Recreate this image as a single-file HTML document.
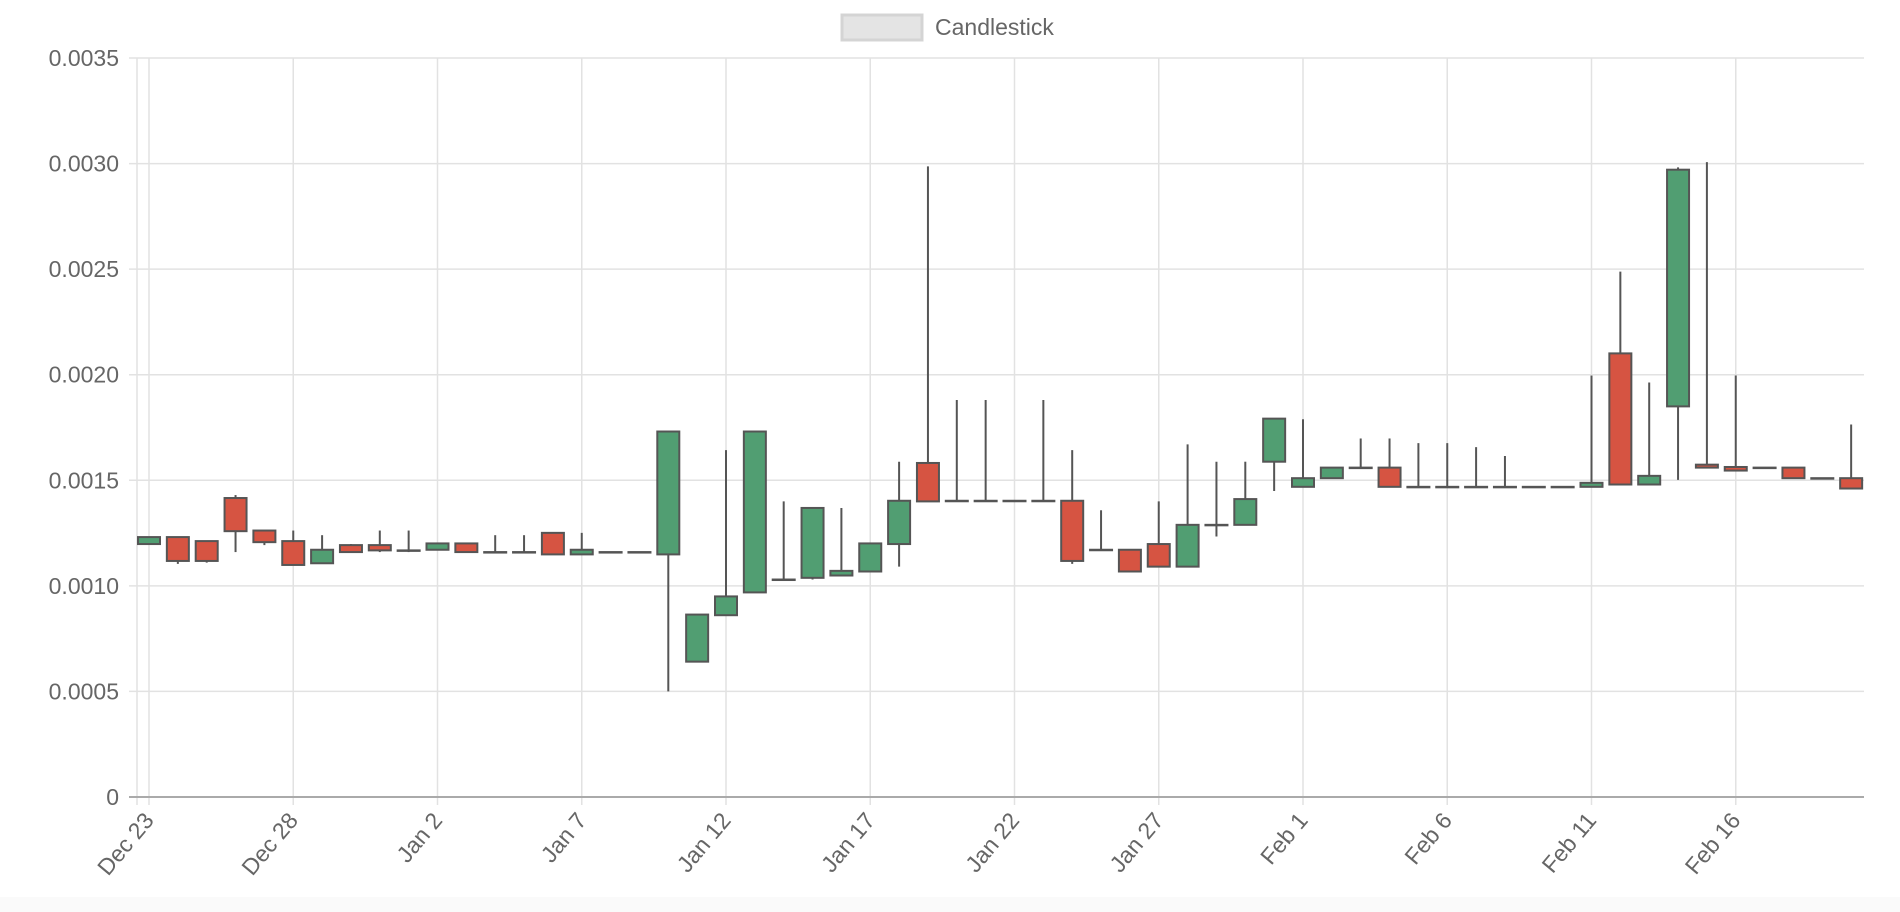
<!DOCTYPE html>
<html><head><meta charset="utf-8"><style>
html,body{margin:0;padding:0;background:#fff;}
svg{display:block;font-family:"Liberation Sans",sans-serif;}
</style></head><body>
<svg id="chart" width="1900" height="912" viewBox="0 0 1900 912">
<rect x="0" y="897" width="1900" height="15" fill="#fafafa"/>
<g>
<rect x="842" y="15" width="80" height="25" fill="#e4e4e4" stroke="#d4d4d4" stroke-width="3"/>
<text x="935" y="35" font-size="23" fill="#666">Candlestick</text>
</g>
<g id="grid"></g>
<g id="candles"></g>
<g id="axes"></g>
</svg>
<script>
const dates = ["Dec 23","Dec 24","Dec 25","Dec 26","Dec 27","Dec 28","Dec 29","Dec 30","Dec 31","Jan 1","Jan 2","Jan 3","Jan 4","Jan 5","Jan 6","Jan 7","Jan 8","Jan 9","Jan 10","Jan 11","Jan 12","Jan 13","Jan 14","Jan 15","Jan 16","Jan 17","Jan 18","Jan 19","Jan 20","Jan 21","Jan 22","Jan 23","Jan 24","Jan 25","Jan 26","Jan 27","Jan 28","Jan 29","Jan 30","Jan 31","Feb 1","Feb 2","Feb 3","Feb 4","Feb 5","Feb 6","Feb 7","Feb 8","Feb 9","Feb 10","Feb 11","Feb 12","Feb 13","Feb 14","Feb 15","Feb 16","Feb 17","Feb 18","Feb 19","Feb 20"];
const opens = [1.198,1.231,1.212,1.416,1.262,1.212,1.107,1.193,1.193,1.168,1.171,1.201,1.160,1.160,1.251,1.149,1.160,1.160,1.149,0.641,0.861,0.969,1.030,1.038,1.049,1.068,1.198,1.582,1.403,1.403,1.403,1.403,1.403,1.171,1.171,1.198,1.091,1.289,1.289,1.588,1.469,1.510,1.560,1.560,1.469,1.469,1.469,1.469,1.469,1.469,1.469,2.101,1.480,1.850,1.574,1.563,1.560,1.560,1.510,1.510];
const highs = [1.231,1.231,1.212,1.430,1.262,1.262,1.240,1.198,1.262,1.262,1.201,1.201,1.240,1.240,1.251,1.251,1.160,1.160,1.731,0.864,1.643,1.731,1.400,1.369,1.369,1.201,1.588,2.987,1.880,1.880,1.403,1.880,1.643,1.358,1.171,1.400,1.670,1.588,1.588,1.792,1.789,1.560,1.698,1.698,1.676,1.676,1.657,1.615,1.469,1.469,1.996,2.488,1.963,2.982,3.007,1.996,1.560,1.560,1.510,1.764];
const lows = [1.198,1.104,1.110,1.160,1.193,1.099,1.105,1.160,1.160,1.160,1.171,1.160,1.160,1.160,1.149,1.149,1.160,1.160,0.500,0.641,0.861,0.969,1.030,1.030,1.049,1.068,1.091,1.400,1.403,1.403,1.403,1.403,1.104,1.171,1.068,1.091,1.091,1.234,1.289,1.449,1.469,1.510,1.560,1.469,1.469,1.469,1.469,1.469,1.469,1.465,1.469,1.480,1.480,1.502,1.560,1.546,1.560,1.510,1.510,1.461];
const closes = [1.231,1.118,1.118,1.259,1.207,1.099,1.171,1.160,1.168,1.168,1.201,1.160,1.160,1.160,1.149,1.171,1.160,1.160,1.731,0.864,0.950,1.731,1.030,1.369,1.071,1.201,1.403,1.400,1.403,1.403,1.403,1.403,1.118,1.171,1.068,1.091,1.289,1.289,1.411,1.792,1.510,1.560,1.560,1.469,1.469,1.469,1.469,1.469,1.469,1.469,1.488,1.480,1.521,2.971,1.560,1.546,1.560,1.510,1.510,1.461];
const yTicks = ["0","0.0005","0.0010","0.0015","0.0020","0.0025","0.0030","0.0035"];
const yTickVals = [0,0.5,1.0,1.5,2.0,2.5,3.0,3.5];

const NS="http://www.w3.org/2000/svg";
const L=137,R=1864,T=58,B=797;
const xOf=i=>149+28.85*i;
const yOf=v=>B-(v/3.5)*(B-T);
function mk(tag,attrs,parent){const e=document.createElementNS(NS,tag);for(const k in attrs)e.setAttribute(k,attrs[k]);parent.appendChild(e);return e;}
const grid=document.getElementById('grid'),axes=document.getElementById('axes'),cg=document.getElementById('candles');

yTickVals.forEach((v,k)=>{
  const y=yOf(v);
  const g=mk('line',{x1:L-8,x2:R,y1:y,y2:y,stroke:k===0?'#aaa':'#e2e2e2','stroke-width':k===0?2:1.5},k===0?axes:grid);
  
  
  const t=mk('text',{x:L-18,y:y+8,'text-anchor':'end','font-size':23,fill:'#666'},axes);
  t.textContent=yTicks[k];
  
  
});
const la=mk('line',{x1:L,x2:L,y1:T,y2:B+8,stroke:'#e2e2e2','stroke-width':1.5},grid);



dates.forEach((d,i)=>{
  if(i%5!==0)return;
  const x=xOf(i);
  const g=mk('line',{x1:x,x2:x,y1:T,y2:B+8,stroke:'#e2e2e2','stroke-width':1.5},grid);
  
  
  const t=mk('text',{x:x+6,y:B+24,'text-anchor':'end','font-size':23,fill:'#666',transform:`rotate(-50 ${x+6} ${B+24})`},axes);
  t.textContent=d;
  
  
});

const W=22;
dates.forEach((d,i)=>{
  const x=xOf(i),o=opens[i],c=closes[i],h=highs[i],l=lows[i];
  const g=mk('g',{},cg);
  
  
  const w=mk('line',{x1:x,x2:x,y1:yOf(h),y2:yOf(l),stroke:'#555','stroke-width':2},g);
  
  
  const top=yOf(Math.max(o,c)),bot=yOf(Math.min(o,c));
  const fill=c>o?'#519e72':(c<o?'#d65442':'#555');
  const r=mk('rect',{x:x-W/2,y:top,width:W,height:Math.max(bot-top,0.5),fill:fill,stroke:'#555','stroke-width':2},g);
  
  
});
</script>
</body></html>
